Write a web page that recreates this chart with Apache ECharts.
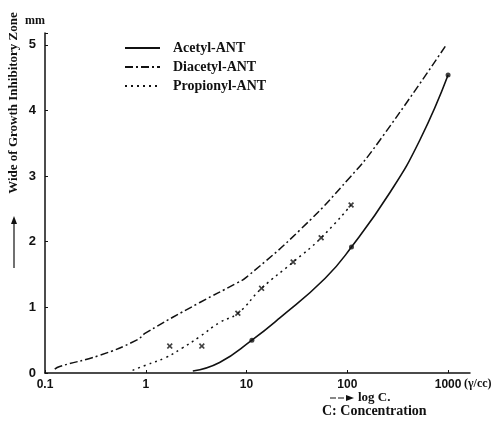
<!DOCTYPE html>
<html>
<head>
<meta charset="utf-8">
<script src="https://cdn.jsdelivr.net/npm/echarts@6/dist/echarts.min.js"></script>
<style>
  html, body { margin: 0; padding: 0; background: #fff; }
  #chart { width: 502px; height: 423px; }
</style>
</head>
<body>
<div id="chart"></div>
<script>
// concentration (γ/cc) vs width of inhibitory zone (mm)
const xTicks = [0.1, 1, 10, 100, 1000];
const yTicks = [0, 1, 2, 3, 4, 5];

const acetylLine = [[2.93, 0.03], [5.4, 0.16], [11.3, 0.5], [21.4, 0.84], [60, 1.44], [110, 1.92], [265, 2.75], [525, 3.55], [1000, 4.54]];
const acetylPts = [[11.3, 0.5], [110, 1.92], [1000, 4.54]];

const diacetylLine = [[0.125, 0.06], [0.14, 0.1], [0.35, 0.27], [0.81, 0.5], [1.0, 0.61], [3.4, 1.07], [8.0, 1.37], [10, 1.46], [35, 2.2], [106, 2.98], [200, 3.5], [950, 4.99]];
const diacetylPts = [[1.0, 0.61], [10, 1.46], [106, 2.98], [950, 4.99]];

const propionylLine = [[0.74, 0.04], [1.0, 0.12], [1.55, 0.23], [2.3, 0.38], [3.4, 0.55], [5.4, 0.77], [8.2, 0.91], [14.1, 1.29], [29, 1.69], [55, 2.06], [109, 2.56]];
const propionylPts = [[1.73, 0.41], [3.6, 0.41], [8.2, 0.91], [14.1, 1.29], [29, 1.69], [55, 2.06], [109, 2.56]];

const serif = 'Liberation Serif, DejaVu Serif, serif';
const sans = 'Liberation Sans, Arial, sans-serif';
const crossPath = 'path://M0,2 L2,0 L5,3 L8,0 L10,2 L7,5 L10,8 L8,10 L5,7 L2,10 L0,8 L3,5 Z';

const chart = echarts.init(document.getElementById('chart'));

let option = {
  backgroundColor: '#fff',
  animation: false,
  grid: { left: 45, right: 32, top: 33, bottom: 50 },
  legend: {
    data: ['Acetyl-ANT', 'Diacetyl-ANT', 'Propionyl-ANT'],
    orient: 'vertical',
    left: 119,
    top: 36,
    itemWidth: 35,
    itemHeight: 10,
    itemGap: 5,
    itemStyle: { opacity: 0 },
    textStyle: { fontFamily: serif, fontWeight: 'bold', fontSize: 14, color: '#111', padding: [0, 0, 0, 8] }
  },
  xAxis: {
    type: 'log',
    logBase: 10,
    min: 0.1,
    max: 1650,
    axisLine: { lineStyle: { color: '#111', width: 1.5 } },
    axisTick: { inside: true, length: 3, lineStyle: { color: '#111' } },
    splitLine: { show: false },
    axisLabel: {
      margin: 6,
      color: '#111',
      fontFamily: sans,
      fontWeight: 'bold',
      fontSize: 12,
      showMaxLabel: false,
      formatter: function (v) {
        for (let t of xTicks) {
          if (Math.abs(v - t) / t < 1e-6) return String(t);
        }
        return '';
      }
    }
  },
  yAxis: {
    type: 'value',
    min: 0,
    max: 5.18,
    interval: 1,
    axisLine: { show: true, lineStyle: { color: '#111', width: 1.5 } },
    axisTick: { show: true, inside: true, length: 3, lineStyle: { color: '#111' } },
    splitLine: { show: false },
    axisLabel: {
      margin: 9,
      color: '#111',
      fontFamily: sans,
      fontWeight: 'bold',
      fontSize: 13,
      formatter: function (v) {
        return yTicks.indexOf(v) >= 0 ? String(v) : '';
      }
    }
  },
  series: [
    {
      name: 'Acetyl-ANT', type: 'line', smooth: true, symbol: 'none',
      data: acetylLine,
      lineStyle: { color: '#111', width: 1.6, type: 'solid' },
      itemStyle: { color: '#111' }
    },
    {
      name: 'Diacetyl-ANT', type: 'line', smooth: true, symbol: 'none',
      data: diacetylLine,
      lineStyle: { color: '#111', width: 1.5, type: [8, 3, 2, 3] },
      itemStyle: { color: '#111' }
    },
    {
      name: 'Propionyl-ANT', type: 'line', smooth: true, symbol: 'none',
      data: propionylLine,
      lineStyle: { color: '#111', width: 1.5, type: [2, 4] },
      itemStyle: { color: '#111' }
    },
    {
      name: 'acetylPts', type: 'scatter', symbol: 'circle', symbolSize: 5,
      data: acetylPts, itemStyle: { color: '#111' }
    },
    {
      name: 'diacetylPts', type: 'scatter', symbol: 'emptyCircle', symbolSize: 5,
      data: diacetylPts, itemStyle: { color: '#fff', borderColor: '#111', borderWidth: 1.3 }
    },
    {
      name: 'propionylPts', type: 'scatter', symbol: crossPath, symbolSize: 6,
      data: propionylPts, itemStyle: { color: '#111' }
    }
  ],
  graphic: [
    {
      type: 'text', left: 25, top: 15,
      style: { text: 'mm', font: 'bold 12px ' + serif, fill: '#111' }
    },
    {
      type: 'text', x: 14, y: 103, rotation: Math.PI / 2,
      style: { text: 'Wide of Growth Inhibitory Zone', font: 'bold 13px ' + serif, fill: '#111', align: 'center', verticalAlign: 'middle' }
    },
    {
      type: 'line', shape: { x1: 14, y1: 268, x2: 14, y2: 222 },
      style: { stroke: '#111', lineWidth: 1.2 }
    },
    {
      type: 'polygon', shape: { points: [[14, 216], [11, 224], [17, 224]] },
      style: { fill: '#111' }
    },
    {
      type: 'text', left: 464, top: 378,
      style: { text: '(γ/cc)', font: 'bold 12px ' + serif, fill: '#111' }
    },
    {
      type: 'line', shape: { x1: 330, y1: 398, x2: 348, y2: 398 },
      style: { stroke: '#111', lineWidth: 1.2, lineDash: [6, 2] }
    },
    {
      type: 'polygon', shape: { points: [[354, 398], [346, 395], [346, 401]] },
      style: { fill: '#111' }
    },
    {
      type: 'text', left: 358, top: 391,
      style: { text: 'log C.', font: 'bold 13px ' + serif, fill: '#111' }
    },
    {
      type: 'text', left: 322, top: 404,
      style: { text: 'C: Concentration', font: 'bold 14px ' + serif, fill: '#111' }
    }
  ]
};

chart.setOption(option);
</script>
</body>
</html>
